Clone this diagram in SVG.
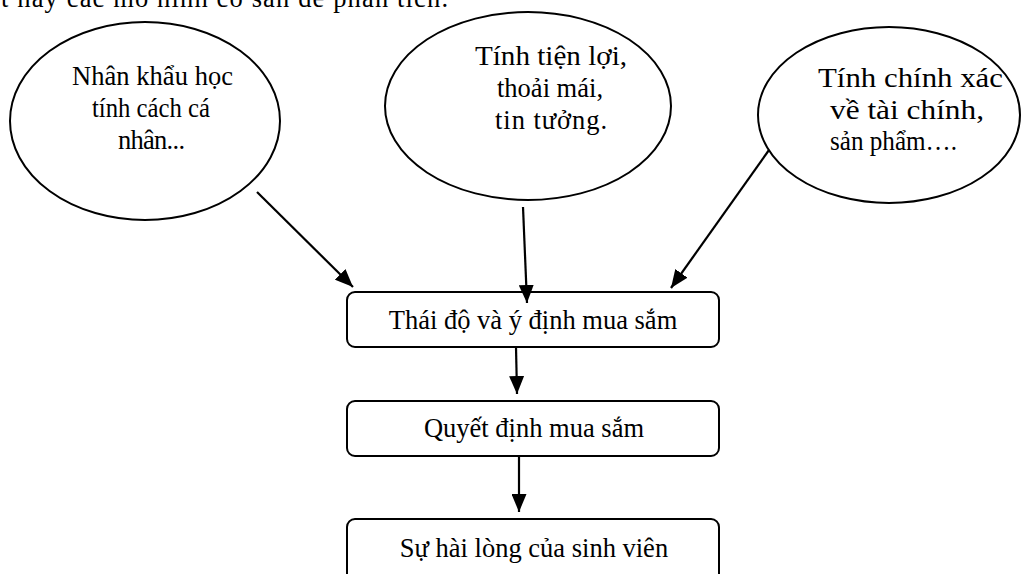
<svg xmlns="http://www.w3.org/2000/svg" width="1021" height="574" viewBox="0 0 1021 574">
<style>
  text { font-family: "Liberation Serif", "Times New Roman", serif; font-size: 26.5px; fill: #000; }
  .c { text-anchor: middle; }
  .big { font-size: 28px; }
  .shape { fill: #fff; stroke: #000; stroke-width: 2; }
</style>
<defs>
  <marker id="ahb" viewBox="0 0 10 10" refX="10" refY="5" markerWidth="18" markerHeight="15" markerUnits="userSpaceOnUse" orient="auto" preserveAspectRatio="none">
    <path d="M0,0 L10,5 L0,10 z" fill="#000"/>
  </marker>
</defs>
<rect width="1021" height="574" fill="#fff"/>
<text x="1" y="7" textLength="447" lengthAdjust="spacing">t hãy các mô hình có sẵn để phân tích.</text>

<g id="n1">
  <ellipse class="shape" cx="145" cy="121" rx="135" ry="99"/>
  <text x="72" y="85" textLength="161" lengthAdjust="spacing">Nhân khẩu học</text>
  <text x="92" y="117" textLength="118" lengthAdjust="spacingAndGlyphs">tính cách cá</text>
  <text x="118" y="149" textLength="67" lengthAdjust="spacing">nhân...</text>
</g>
<g id="n2">
  <ellipse class="shape" cx="528" cy="106" rx="143" ry="94"/>
  <text class="big" x="475" y="65" textLength="152" lengthAdjust="spacingAndGlyphs">Tính tiện lợi,</text>
  <text x="497" y="97" textLength="106" lengthAdjust="spacing">thoải mái,</text>
  <text x="495" y="129" textLength="112" lengthAdjust="spacing">tin tưởng.</text>
</g>
<g id="n3">
  <ellipse class="shape" cx="889" cy="115" rx="131" ry="88"/>
  <text class="big" x="818" y="87" textLength="185" lengthAdjust="spacingAndGlyphs">Tính chính xác</text>
  <text class="big" x="830" y="119" textLength="154" lengthAdjust="spacingAndGlyphs">về tài chính,</text>
  <text x="830" y="150" textLength="127" lengthAdjust="spacingAndGlyphs">sản phẩm….</text>
</g>
<g id="n4">
  <rect class="shape" x="347" y="292" width="372" height="55" rx="8"/>
  <text class="c" x="533" y="329">Thái độ và ý định mua sắm</text>
</g>
<g id="n5">
  <rect class="shape" x="347" y="401" width="372" height="55" rx="8"/>
  <text class="c" x="534" y="437">Quyết định mua sắm</text>
</g>
<g id="n6">
  <rect class="shape" x="347" y="519" width="372" height="70" rx="8"/>
  <text class="c" x="534" y="557">Sự hài lòng của sinh viên</text>
</g>

<g id="connectors" stroke="#000" stroke-width="2.2" fill="none">
  <line x1="257" y1="192" x2="353" y2="287" marker-end="url(#ahb)"/>
  <line x1="523" y1="207" x2="527" y2="303" marker-end="url(#ahb)"/>
  <line x1="769" y1="150" x2="671" y2="288" marker-end="url(#ahb)"/>
  <line x1="516" y1="347" x2="517" y2="394" marker-end="url(#ahb)"/>
  <line x1="519" y1="456" x2="519" y2="512" marker-end="url(#ahb)"/>
</g>
</svg>
